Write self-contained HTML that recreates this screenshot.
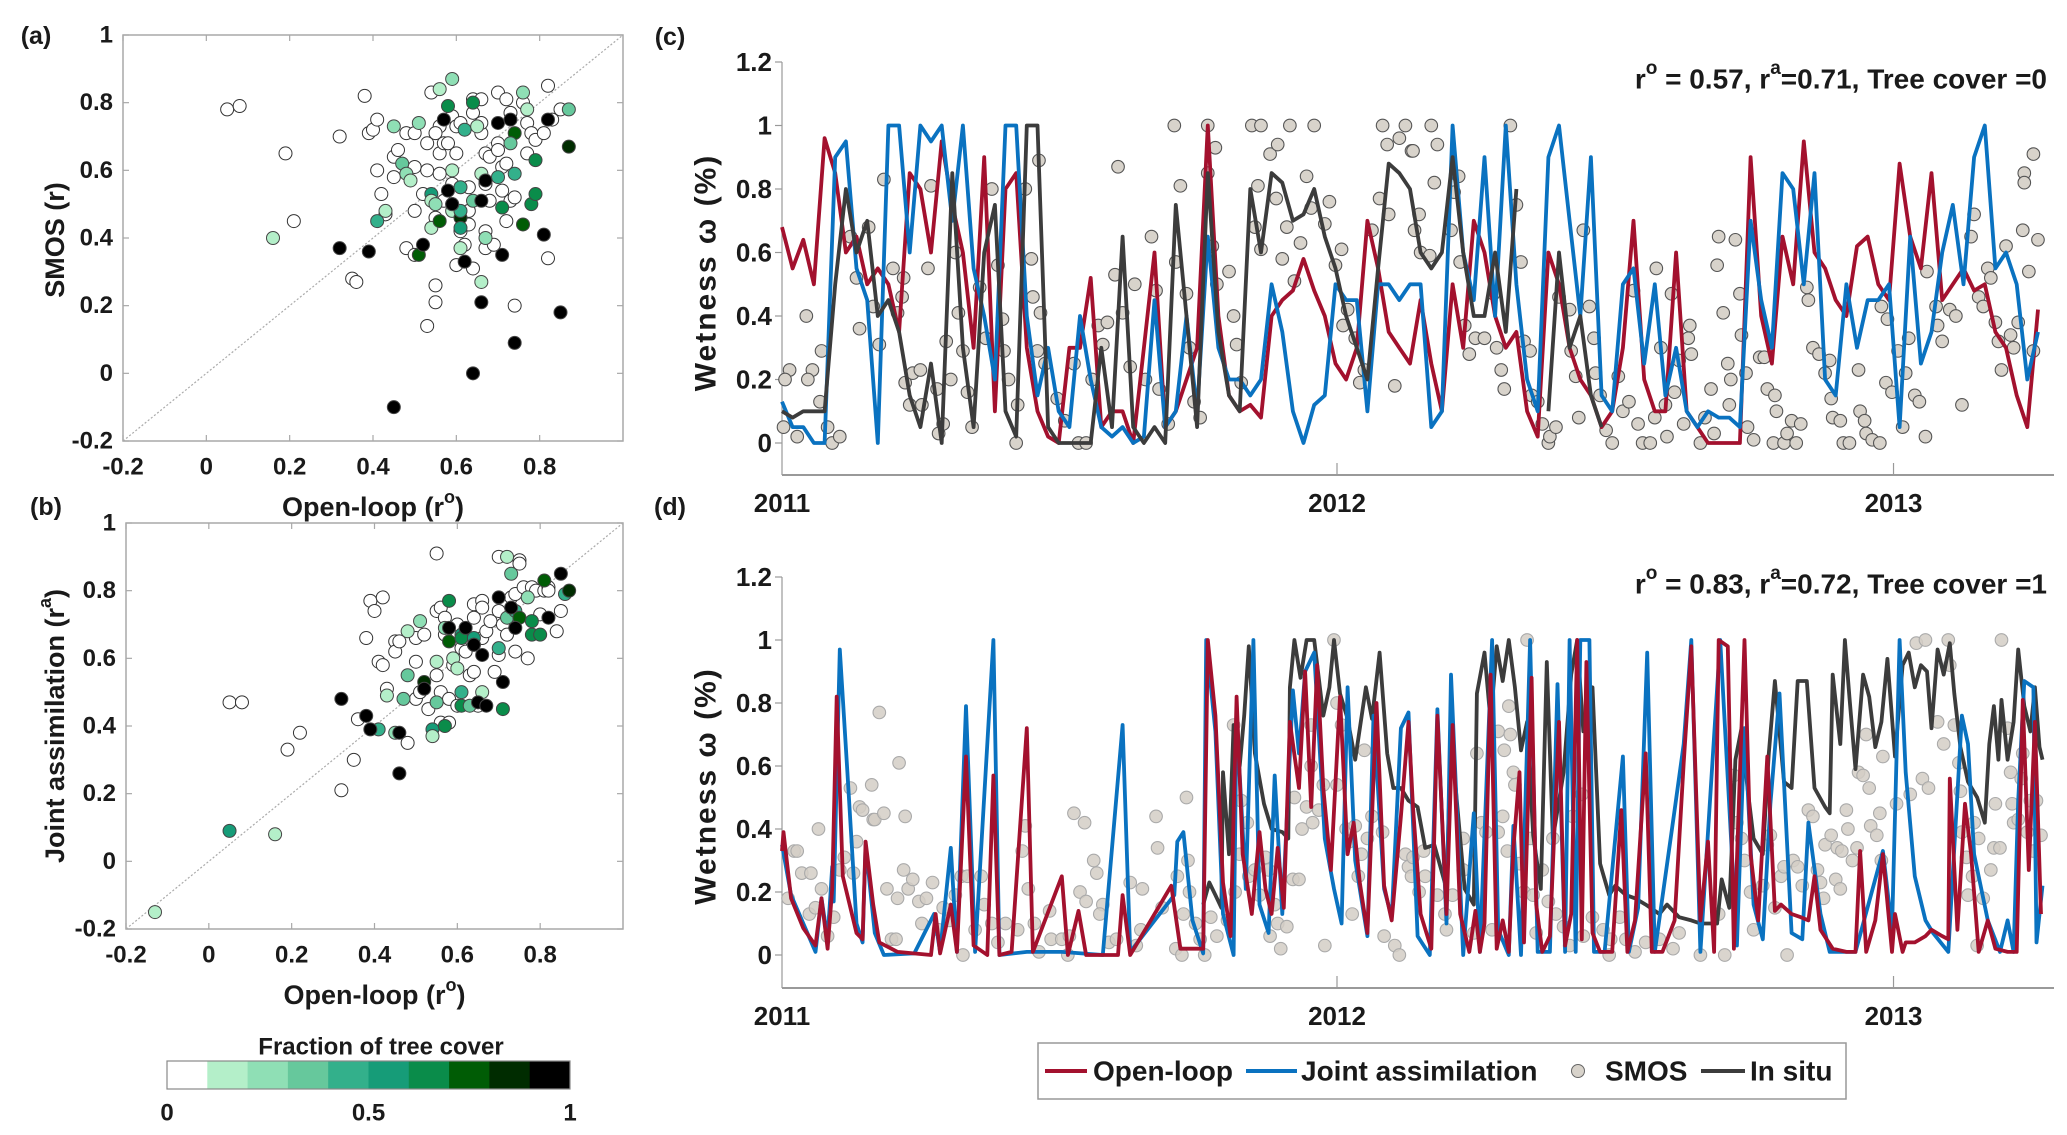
<!DOCTYPE html>
<html><head><meta charset="utf-8"><style>
html,body{margin:0;padding:0;background:#fff;}
svg{display:block;font-family:"Liberation Sans",Arial,sans-serif;}
.tk{font-size:24px;font-weight:bold;fill:#1a1a1a;}
.tk2{font-size:26px;font-weight:bold;fill:#1a1a1a;}
.lg{font-size:28px;font-weight:bold;fill:#1a1a1a;}
.lb{font-size:27px;font-weight:bold;fill:#1a1a1a;}
.lbw{font-size:30px;font-weight:bold;fill:#1a1a1a;letter-spacing:2px;}
.pl{font-size:25px;font-weight:bold;fill:#1a1a1a;}
</style></head><body>
<svg id="fig" width="2067" height="1135" viewBox="0 0 2067 1135" xmlns="http://www.w3.org/2000/svg">
<rect x="0" y="0" width="2067" height="1135" fill="#fff"/>
<g id="root"></g>
</svg>
<script>
// ---------- Data: scatter (a) SMOS vs open-loop ----------
const scatterA_x=[0.05,0.08,0.19,0.21,0.32,0.38,0.35,0.36,0.39,0.40,0.41,0.41,0.42,0.43,0.45,0.46,0.45,0.48,0.50,0.50,0.53,0.53,0.50,0.48,0.50,0.54,0.56,0.55,0.56,0.56,0.52,0.55,0.55,0.55,0.53,0.57,0.58,0.59,0.60,0.61,0.60,0.59,0.57,0.60,0.62,0.61,0.63,0.63,0.63,0.64,0.64,0.64,0.66,0.66,0.66,0.67,0.67,0.68,0.67,0.67,0.69,0.68,0.70,0.70,0.70,0.71,0.71,0.72,0.72,0.72,0.73,0.73,0.74,0.74,0.76,0.77,0.77,0.78,0.79,0.81,0.82,0.82,0.83,0.85,
0.16,0.56,0.59,0.45,0.51,0.58,0.47,0.48,0.49,0.41,0.43,0.54,0.54,0.55,0.54,0.56,0.59,0.59,0.61,0.61,0.61,0.61,0.61,0.62,0.59,0.51,0.64,0.65,0.66,0.67,0.66,0.70,0.71,0.74,0.73,0.74,0.76,0.77,0.76,0.78,0.79,0.79,0.87,0.87,0.64,
0.32,0.39,0.45,0.52,0.57,0.58,0.59,0.62,0.64,0.66,0.66,0.70,0.73,0.71,0.74,0.81,0.82,0.85,0.67];
const scatterA_y=[0.78,0.79,0.65,0.45,0.70,0.82,0.28,0.27,0.71,0.72,0.75,0.60,0.53,0.47,0.64,0.66,0.58,0.71,0.71,0.61,0.68,0.60,0.48,0.37,0.35,0.83,0.73,0.71,0.65,0.59,0.53,0.46,0.26,0.21,0.14,0.68,0.68,0.76,0.73,0.74,0.65,0.56,0.51,0.32,0.38,0.42,0.44,0.55,0.48,0.31,0.81,0.77,0.71,0.81,0.74,0.65,0.56,0.64,0.42,0.37,0.38,0.51,0.68,0.66,0.83,0.61,0.54,0.45,0.62,0.81,0.77,0.51,0.52,0.20,0.80,0.74,0.65,0.71,0.69,0.71,0.85,0.34,0.75,0.78,
0.40,0.84,0.87,0.73,0.74,0.79,0.62,0.59,0.57,0.45,0.48,0.53,0.51,0.50,0.43,0.45,0.60,0.48,0.55,0.37,0.46,0.43,0.48,0.72,0.50,0.35,0.51,0.73,0.59,0.40,0.27,0.58,0.49,0.71,0.68,0.59,0.83,0.78,0.44,0.50,0.63,0.53,0.78,0.67,0.80,
0.37,0.36,-0.10,0.38,0.75,0.54,0.50,0.33,0.0,0.21,0.51,0.74,0.75,0.35,0.09,0.41,0.75,0.18,0.57];
const scatterA_c=[0,0,0,0,0,0,0,0,0,0,0,0,0,0,0,0,0,0,0,0,0,0,0,0,0,0,0,0,0,0,0,0,0,0,0,0,0,0,0,0,0,0,0,0,0,0,0,0,0,0,0,0,0,0,0,0,0,0,0,0,0,0,0,0,0,0,0,0,0,0,0,0,0,0,0,0,0,0,0,0,0,0,0,0,
1,1,2,2,2,6,3,2,1,4,1,5,1,2,1,7,1,1,4,1,8,5,4,4,8,7,3,1,1,2,1,4,6,7,3,4,2,1,7,6,6,6,3,8,6,
9,9,9,9,9,9,9,9,9,9,9,9,9,9,9,9,9,9,9];
// ---------- Data: scatter (b) joint assimilation vs open-loop ----------
const scatterB_x=[0.05,0.08,0.19,0.22,0.32,0.35,0.36,0.38,0.39,0.40,0.42,0.41,0.42,0.43,0.45,0.45,0.46,0.48,0.50,0.50,0.50,0.51,0.52,0.53,0.55,0.55,0.56,0.55,0.56,0.56,0.57,0.57,0.58,0.58,0.59,0.60,0.60,0.61,0.62,0.63,0.64,0.64,0.64,0.65,0.66,0.66,0.66,0.67,0.68,0.69,0.70,0.70,0.71,0.70,0.72,0.73,0.74,0.74,0.75,0.75,0.76,0.77,0.78,0.79,0.80,0.81,0.82,0.82,0.84,0.85,
-0.13,0.05,0.16,0.41,0.45,0.43,0.47,0.48,0.48,0.51,0.54,0.54,0.55,0.55,0.57,0.58,0.57,0.58,0.59,0.60,0.61,0.61,0.61,0.61,0.64,0.63,0.66,0.64,0.70,0.71,0.72,0.73,0.72,0.74,0.75,0.77,0.78,0.78,0.80,0.81,0.86,0.87,0.52,
0.32,0.38,0.39,0.46,0.46,0.52,0.58,0.62,0.64,0.65,0.66,0.70,0.71,0.73,0.74,0.82,0.85,0.67];
const scatterB_y=[0.47,0.47,0.33,0.38,0.21,0.30,0.42,0.66,0.77,0.74,0.78,0.59,0.58,0.51,0.65,0.62,0.65,0.35,0.59,0.48,0.66,0.50,0.67,0.45,0.91,0.74,0.75,0.55,0.41,0.50,0.72,0.67,0.41,0.48,0.58,0.70,0.46,0.63,0.62,0.55,0.56,0.76,0.72,0.46,0.77,0.75,0.66,0.68,0.71,0.56,0.74,0.90,0.70,0.61,0.67,0.78,0.79,0.62,0.89,0.88,0.81,0.60,0.81,0.80,0.73,0.80,0.81,0.80,0.68,0.74,
-0.15,0.09,0.08,0.39,0.38,0.49,0.48,0.55,0.68,0.71,0.39,0.37,0.59,0.47,0.40,0.77,0.69,0.65,0.60,0.57,0.67,0.50,0.46,0.66,0.66,0.46,0.50,0.64,0.63,0.45,0.72,0.85,0.90,0.74,0.72,0.78,0.67,0.71,0.67,0.83,0.79,0.80,0.53,
0.48,0.43,0.39,0.26,0.38,0.51,0.69,0.69,0.64,0.47,0.61,0.78,0.53,0.75,0.69,0.72,0.85,0.46];
const scatterB_c=[0,0,0,0,0,0,0,0,0,0,0,0,0,0,0,0,0,0,0,0,0,0,0,0,0,0,0,0,0,0,0,0,0,0,0,0,0,0,0,0,0,0,0,0,0,0,0,0,0,0,0,0,0,0,0,0,0,0,0,0,0,0,0,0,0,0,0,0,0,0,
1,5,1,4,2,1,3,3,1,2,5,1,1,3,6,6,2,7,1,1,5,4,6,6,5,3,1,2,4,6,3,3,1,4,7,2,6,6,6,7,4,8,8,
9,9,9,9,9,9,9,9,9,9,9,9,9,9,9,9,9,9];
const axisTicksScatter=[-0.2,0,0.2,0.4,0.6,0.8];
const axisTicksScatterY=[-0.2,0,0.2,0.4,0.6,0.8,1];
const treeClasses=['#ffffff','#b4efc9','#8fdfb5','#66c89c','#33b08b','#169c78','#0a8c4a','#005c05','#002c00','#000000'];
const cbarTicks=[0,0.5,1];

// ---------- Data: time series (c) tree cover 0 ----------
const weeks=[];for(let i=0;i<=118;i++)weeks.push(i*7);
const cOpen=[0.68,0.55,0.64,0.5,0.96,0.85,0.6,0.65,0.5,0.55,0.5,0.35,0.85,0.8,0.6,0.95,0.75,0.6,0.3,0.9,0.1,0.8,0.85,0.3,0.1,0.02,0.0,0.3,0.3,0.52,0.05,0.1,0.1,0.0,0.3,0.6,0.05,0.1,0.2,0.3,1.0,0.4,0.15,0.1,0.12,0.08,0.4,0.45,0.48,0.58,0.48,0.4,0.25,0.2,0.3,0.7,0.55,0.35,0.3,0.25,
0.45,0.25,0.1,0.5,0.3,0.7,0.6,0.4,0.3,0.35,0.1,0.02,0.6,0.5,0.3,0.2,0.15,0.05,0.1,0.3,0.7,0.2,0.1,0.1,0.6,0.1,0.05,0.0,0.0,0.0,0.0,0.9,0.4,0.25,0.65,0.5,0.95,0.6,0.55,0.45,0.4,0.62,0.65,0.5,0.45,0.88,0.65,0.55,0.85,0.45,0.5,0.55,0.48,0.5,0.35,0.3,0.15,0.05,0.42];
const cJoint=[0.13,0.05,0.05,0.0,0.0,0.9,0.95,0.55,0.45,0.0,1.0,1.0,0.6,1.0,0.95,1.0,0.7,1.0,0.55,0.4,0.2,1.0,1.0,0.4,0.15,0.3,0.1,0.05,0.4,0.2,0.05,0.02,0.05,0.0,0.02,0.45,0.05,0.1,0.4,0.1,0.65,0.3,0.2,0.2,0.15,0.2,0.5,0.35,0.1,0.0,0.12,0.15,0.5,0.45,0.45,0.1,0.5,0.5,0.45,0.5,
0.5,0.05,0.1,1.0,0.6,0.45,0.9,0.4,1.0,0.5,0.2,0.1,0.9,1.0,0.7,0.4,0.9,0.15,0.1,0.5,0.55,0.25,0.5,0.15,0.3,0.1,0.05,0.1,0.08,0.08,0.05,0.7,0.45,0.3,0.85,0.8,0.5,0.85,0.2,0.15,0.5,0.3,0.45,0.45,0.5,0.05,0.65,0.25,0.35,0.6,0.75,0.5,0.9,1.0,0.55,0.6,0.5,0.2,0.35];
const cInsitu=[0.1,0.08,0.1,0.1,0.1,0.5,0.8,0.6,0.7,0.4,0.45,0.35,0.15,0.05,0.25,0.0,0.85,0.3,0.05,0.6,0.75,0.1,0.02,1.0,1.0,0.05,0.0,0.0,0.0,0.0,0.3,0.05,0.65,0.05,0.0,0.05,0.0,0.75,0.4,0.05,0.85,0.35,0.15,0.1,0.8,0.6,0.85,0.82,0.7,0.72,0.8,0.65,0.55,0.4,0.3,0.2,0.55,0.88,0.85,0.8,
0.6,0.55,0.6,0.9,0.6,0.4,0.4,0.6,0.35,0.8,null,null,0.1,0.6,0.3,0.4,0.15,0.05,null,null,null,null,null,null,null,null,null,null,null,null,null,null,null,null,null,null,null,null,null,null,null,null,null,null,null,null,null,null,null,null,null,null,null,null,null,null,null,null,null,null,0.6];
const cSmosDay=[1,5,2,10,16,20,17,25,26,30,33,38,45,49,51,57,60,64,67,73,76,80,79,81,86,84,91,92,96,98,102,103,106,108,111,114,116,119,122,125,130,134,138,142,145,146,149,155,154,160,164,165,170,169,168,173,181,186,192,195,200,204,208,211,214,219,221,224,232,229,239,243,246,248,254,258,259,262,266,268,271,275,280,280,285,283,286,294,297,299,302,309,315,311,313,315,321,325,326,329,332,334,337,341,345,348,350,357,360,364,368,369,372,377,380,383,388,393,395,398,399,403,406,410,414,
427,431,415,416,419,420,429,426,442,445,440,446,449,452,456,462,468,470,473,475,479,483,486,488,492,493,497,500,504,505,509,511,518,519,522,524,527,531,534,535,538,542,546,550,553,557,560,563,566,571,575,574,578,581,582,585,587,590,593,596,597,598,604,607,611,613,615,616,619,622,624,623,627,630,631,634,635,639,643,646,648,652,653,654,659,661,664,667,670,674,675,678,682,686,689,690,691,696,698,702,708,709,712,713,717,722,723,726,727,730,734,737,739,741,745,748,752,753,759,760,763,768,772,776,782,784,787,790,793,795,798,800,802,805,808,810,813,816,817,817,820,823,823,826];
const cSmosVal=[0.05,0.23,0.2,0.02,0.4,0.23,0.2,0.13,0.29,0.05,0.0,0.02,0.65,0.52,0.36,0.68,0.43,0.31,0.83,0.55,0.41,0.52,0.46,0.19,0.22,0.12,0.23,0.12,0.55,0.81,0.17,0.03,0.06,0.32,0.2,0.6,0.41,0.29,0.16,0.05,0.49,0.33,0.8,0.56,0.39,0.29,0.2,0.12,0.0,0.8,0.58,0.46,0.41,0.89,0.29,0.25,0.14,0.07,0.25,0.0,0.0,0.2,0.37,0.31,0.38,0.53,0.87,0.41,0.5,0.24,0.2,0.65,0.48,0.17,0.06,1.0,0.57,0.81,0.47,0.3,0.13,0.08,1.0,0.85,0.93,0.62,0.5,0.54,0.4,0.31,0.19,1.0,1.0,0.68,0.81,0.61,0.91,0.77,0.94,0.58,0.68,1.0,0.51,0.63,0.84,0.74,1.0,0.69,0.76,0.56,0.61,0.37,0.42,0.33,0.19,0.23,0.67,0.77,1.0,0.94,0.72,0.18,0.96,1.0,0.92,
1.0,0.94,0.92,0.67,0.72,0.6,0.82,0.59,0.79,0.84,0.67,0.57,0.37,0.28,0.33,0.33,0.47,0.3,0.23,0.17,1.0,0.75,0.57,0.32,0.29,0.15,0.13,0.06,0.0,0.02,0.05,0.46,0.42,0.29,0.21,0.08,0.67,0.43,0.33,0.22,0.15,0.04,0.0,0.21,0.1,0.13,0.48,0.06,0.0,0.0,0.55,0.08,0.3,0.12,0.02,0.47,0.16,0.26,0.06,0.33,0.37,0.28,0.0,0.08,0.17,0.03,0.56,0.65,0.41,0.25,0.2,0.12,0.64,0.47,0.34,0.22,0.05,0.01,0.27,0.27,0.17,0.0,0.15,0.1,0.0,0.03,0.07,0.0,0.06,0.49,0.45,0.3,0.28,0.22,0.26,0.14,0.08,0.07,0.0,0.0,0.23,0.1,0.07,0.03,0.01,0.0,0.43,0.19,0.39,0.16,0.29,0.05,0.22,0.33,0.15,0.13,0.02,0.54,0.43,0.37,0.32,0.42,0.4,0.12,0.65,0.72,0.46,0.43,0.55,0.52,0.38,0.32,0.23,0.62,0.34,0.3,0.38,0.67,0.85,0.82,0.54,0.91,0.29,0.64];

// ---------- Data: time series (d) tree cover 1 ----------
const dOpenDay=[0,1,6,14,22,26,30,33,36,40,49,53,55,60,64,76,98,101,104,111,115,121,126,135,139,143,151,161,165,184,188,195,200,221,224,229,256,262,277,280,285,290,295,299,303,309,314,318,322,326,330,334,340,344,348,352,356,361,367,372,376,380,385,391,396,401,407,412,
415,420,427,431,437,441,446,452,456,459,462,466,470,474,478,481,485,488,493,496,500,505,511,515,519,523,526,529,533,538,546,552,556,561,568,572,579,587,593,598,604,609,613,616,622,626,633,637,642,648,653,657,664,670,675,679,683,691,700,706,709,713,719,724,730,732,737,739,745,752,756,763,767,768,773,778,782,787,793,798,806,812,816,820,824,828];
const dOpenVal=[0.33,0.39,0.18,0.085,0.03,0.18,0.02,0.21,0.82,0.25,0.07,0.05,0.36,0.16,0.04,0.01,0,0.13,0.005,0.16,0.01,0.63,0.03,0,0.57,0,0.01,0.72,0.01,0.25,0,0.14,0,0,0.19,0,0.22,0.02,0.02,1.0,0.76,0.23,0.06,0.82,0.32,0.13,0.39,0.21,0.13,0.34,0.15,0.74,0.53,0.9,0.47,0.92,0.53,0.27,0.82,0.32,0.42,0.23,0.07,0.8,0.22,0.11,0.44,0.74,
0.47,0.13,0.02,0.76,0.13,0.73,0.13,0.01,0.14,0.01,0.1,0.89,0.02,0.11,0.01,0.34,0.58,0.04,0.88,0.16,0.01,0.06,0.74,0.03,0.13,1.0,0.05,0.93,0.07,0.01,0.01,0.46,0.01,0.11,0.64,0.01,0.01,0.11,0.61,0.98,0.11,0.36,0.01,1.0,0.98,0.02,1.0,0.32,0.11,0.63,0.14,0.16,0.13,0.12,0.11,0.25,0.08,0.02,0.01,0.01,0.33,0.01,0.11,0.32,0.01,0.13,0.01,0.04,0.04,0.06,0.08,0.06,0.05,0.56,0.08,0.48,0.32,0.01,0.11,0.02,0.01,0.01,0.81,0.27,0.74,0.13];
const dJointDay=[0,6,22,26,30,33,34,38,43,49,53,55,61,67,87,100,104,111,115,121,127,139,143,161,184,211,224,229,258,260,264,270,277,279,285,290,297,299,305,310,314,320,324,329,336,340,344,350,357,363,368,372,377,385,389,396,401,407,412,
418,426,431,437,440,448,455,459,467,471,478,481,486,492,497,505,510,515,518,522,525,531,534,541,553,557,563,569,574,587,593,598,604,617,628,633,639,645,650,656,664,671,675,683,689,706,724,730,735,739,745,752,757,767,776,780,784,793,801,806,810,813,817,823,825,829];
const dJointVal=[0.35,0.19,0.01,0.18,0.05,0.28,0.17,0.97,0.58,0.1,0.04,0.35,0.07,0,0.005,0.13,0.01,0.34,0.01,0.79,0.01,1.0,0,0.01,0.01,0,0.73,0.01,0.19,0.36,0.39,0.11,0.005,1.0,0.71,0.13,0,0.76,0.21,1.0,0.16,0.07,0.57,0.13,0.84,0.64,0.9,0.96,0.37,0.21,0.1,0.85,0.3,0.06,0.76,0.21,0.12,0.72,0.77,
0.06,0,0.78,0.1,0.89,0,0.45,0.01,1.0,0.08,0,0.41,0,1.0,0.01,0.01,0.86,0.01,1.0,0.01,1.0,1.0,0.01,0.01,0.63,0.01,0.15,0.96,0.01,0.46,0.67,1.0,0.01,1.0,0.03,0.72,0.16,0.05,0.48,0.83,0.07,0.05,0.42,0.13,0.01,0.01,0.33,0.08,1.0,0.58,0.25,0.11,0.07,0.01,0.76,0.67,0.32,0.11,0.01,0.11,0.01,0.49,0.87,0.85,0.04,0.22];
const dInsituDay=[277,281,285,289,290,294,297,301,304,307,311,317,322,329,333,334,337,341,345,350,356,360,363,367,372,377,384,388,393,398,402,407,412,
418,423,429,437,440,444,449,455,457,462,466,470,474,478,482,486,490,494,499,503,507,514,519,523,527,533,538,544,548,555,561,568,577,582,590,598,604,615,618,623,627,631,635,639,645,649,653,659,664,668,674,679,686,689,691,696,699,702,706,711,715,719,723,727,732,737,741,745,749,753,756,760,764,768,771,775,780,786,791,794,797,800,802,806,810,813,817,821,824,827,829];
const dInsituVal=[0.16,0.23,0.19,0.15,0.58,0.32,0.73,0.6,0.76,0.98,0.64,0.48,0.4,0.39,0.37,0.85,1.0,0.88,1.0,1.0,0.76,0.85,1.0,0.83,0.75,0.62,0.85,0.75,0.96,0.64,0.53,0.53,0.49,
0.47,0.34,0.35,0.21,0.7,0.48,0.21,0.16,0.83,0.96,0.74,0.98,0.87,1.0,0.85,0.65,0.74,0.38,0.21,0.93,0.37,0.58,0.89,1.0,0.71,0.85,0.29,0.19,0.22,0.19,0.18,0.16,0.13,0.16,0.12,0.11,0.1,0.1,0.24,0.15,0.62,0.72,0.53,0.37,0.32,0.64,0.87,0.55,0.53,0.87,0.87,0.53,0.47,0.45,0.89,0.67,1.0,0.82,0.59,0.89,0.82,0.66,0.74,0.94,0.63,0.92,0.96,0.85,0.92,0.9,0.72,0.97,0.89,0.99,0.83,0.66,0.55,0.5,0.42,0.67,0.79,0.62,0.81,0.62,0.74,0.97,0.79,0.71,0.85,0.66,0.62];
const dSmosDay=[4,8,10,13,19,18,22,24,26,30,34,38,41,45,47,49,51,53,59,60,64,61,67,69,72,75,77,76,80,81,83,86,90,92,95,99,103,106,110,114,119,118,122,127,131,133,138,142,147,155,158,160,162,166,169,176,177,184,188,189,192,199,196,200,205,207,211,209,215,220,229,233,236,237,246,247,250,259,260,263,264,266,267,268,272,275,278,282,286,293,297,298,301,302,306,307,311,314,318,320,321,324,326,328,332,336,337,340,342,345,348,349,348,353,356,357,363,365,368,365,371,373,377,379,381,375,383,388,385,395,396,403,406,410,412,414,
415,422,423,419,431,436,437,441,448,448,455,457,460,463,467,471,471,474,475,477,478,479,481,482,485,488,490,492,494,496,500,504,507,509,514,518,520,526,527,533,540,544,545,551,555,561,568,577,586,590,604,616,620,626,628,631,633,637,639,645,648,650,653,657,659,661,665,668,671,675,678,681,683,685,686,690,694,697,693,696,700,701,704,707,708,711,713,715,716,720,722,723,724,733,742,746,750,754,752,760,764,767,768,771,774,775,776,779,780,783,784,787,786,790,795,798,797,801,802,806,808,809,810,813,815,816,819,821,823,825,828];
const dSmosVal=[0.18,0.33,0.33,0.26,0.26,0.13,0.15,0.4,0.21,0.06,0.12,0.27,0.31,0.53,0.26,0.36,0.47,0.46,0.54,0.43,0.77,0.43,0.45,0.21,0.05,0.05,0.61,0.18,0.27,0.44,0.21,0.24,0.17,0.1,0.18,0.23,0.08,0.15,0.11,0.19,0,0.25,0.25,0.08,0.25,0.16,0.1,0.04,0.1,0.08,0.33,0.41,0.21,0.1,0.01,0.14,0.05,0.05,0,0.06,0.45,0.42,0.2,0.17,0.3,0.26,0.16,0.13,0.04,0.05,0.23,0.03,0.08,0.21,0.44,0.34,0.15,0.02,0.25,0,0.13,0.5,0.3,0.2,0.1,0.05,0,0.12,0.06,0.11,0.73,0.2,0.32,0.49,0.42,0.25,0.27,0.19,0.31,0.27,0.06,0.16,0.1,0.02,0.09,0.24,0.5,0.24,0.4,0.47,0.6,0.42,0.73,0.46,0.54,0.03,1.0,0.8,0.73,0.54,0.4,0.36,0.41,0.25,0.32,0.13,0.65,0.44,0.37,0.39,0.06,0.03,0,0.32,0.28,0.25,
0.31,0.33,0.25,0.2,0.19,0.13,0.08,0.19,0.37,0.27,0.07,0.64,0.42,0.39,0.08,0.39,0.71,0.44,0.65,0.33,0.79,0.7,0.58,0.54,0.29,0.2,1.0,0.37,0.19,0.07,0.27,0.17,0.37,0.13,0.09,0.03,0.44,0.51,0.06,0.12,0.08,0,0.05,0.12,0.05,0.01,0.04,0.05,0.02,0.07,0,0.13,0,0.57,0.42,0.37,0.3,0.2,0.08,0.22,0.35,0.38,0.15,0.25,0.28,0,0.3,0.28,0.22,0.46,0.44,0.27,0.23,0.18,0.35,0.38,0.34,0.33,0.24,0.21,0.46,0.4,0.3,0.34,0.58,0.57,0.7,0.53,0.41,0.38,0.45,0.3,0.63,0.48,0.51,0.99,0.56,0.53,1.0,0.74,0.67,1.0,0.92,0.73,0.61,0.52,0.39,0.31,0.19,0.25,0.42,0.37,0.03,0.18,0.27,0.48,0.34,0.34,1.0,0.72,0.58,0.48,0.42,0.43,0.56,0.64,0.39,0.49,0.33,0.49,0.38];
const yTicksTS=[0,0.2,0.4,0.6,0.8,1,1.2];
const yTickLabelsTS=['0','0.2','0.4','0.6','0.8','1','1.2'];
const yearTickDays=[0,365,731];
const yearLabels=['2011','2012','2013'];

// ---------- Drawing ----------
const NS='http://www.w3.org/2000/svg';
const root=document.getElementById('root');
function mk(tag,attrs,parent,text){const e=document.createElementNS(NS,tag);for(const k in attrs)e.setAttribute(k,attrs[k]);if(text!==undefined)e.textContent=text;(parent||root).appendChild(e);return e;}
function lin(d0,d1,r0,r1){return v=>r0+(v-d0)*(r1-r0)/(d1-d0);}
function fmt(v){return v===0?'0':String(v);}

function scatterPanel(name,X0,X1,Y0,Y1,xs,ys,cs,ylab,labY){
  const g=mk('g',{});
  
  
  const sx=lin(-0.2,1.0,X0,X1), sy=lin(-0.2,1.0,Y1,Y0);
  const box=mk('rect',{x:X0,y:Y0,width:X1-X0,height:Y1-Y0,fill:'#fff',stroke:'#a8a8a8','stroke-width':1.5},g);
  
  
  axisTicksScatter.forEach(t=>{const x=sx(t);
    mk('line',{x1:x,x2:x,y1:Y1,y2:Y1-6,stroke:'#a8a8a8','stroke-width':1.2},g);
    mk('line',{x1:x,x2:x,y1:Y0,y2:Y0+6,stroke:'#a8a8a8','stroke-width':1.2},g);
    const tl=mk('text',{x:x,y:Y1+26,'text-anchor':'middle',class:'tk','dominant-baseline':'central'},g,fmt(t));
    
    
  });
  axisTicksScatterY.forEach(t=>{const y=sy(t);
    mk('line',{x1:X0,x2:X0+6,y1:y,y2:y,stroke:'#a8a8a8','stroke-width':1.2},g);
    mk('line',{x1:X1,x2:X1-6,y1:y,y2:y,stroke:'#a8a8a8','stroke-width':1.2},g);
    const tl=mk('text',{x:X0-10,y:y,'text-anchor':'end',class:'tk','dominant-baseline':'central'},g,fmt(t));
    
    
  });
  const diag=mk('line',{x1:sx(-0.2),y1:sy(-0.2),x2:sx(1),y2:sy(1),stroke:'#aaa','stroke-width':1.2,'stroke-dasharray':'2,2'},g);
  
  
  xs.forEach((_,i)=>{
    const c=mk('circle',{cx:sx(xs[i]),cy:sy(ys[i]),r:6.5,fill:treeClasses[cs[i]],stroke:cs[i]===0?'#333':'#444','stroke-width':1},g);
    
    
  });
  const xl=mk('text',{x:(X0+X1)/2,y:Y1+66,'text-anchor':'middle',class:'lb','dominant-baseline':'central'},g);
  
  
  xl.innerHTML='Open-loop (r<tspan baseline-shift="super" font-size="18">o</tspan>)';
  const yl=mk('text',{x:0,y:0,'text-anchor':'middle',class:'lb','dominant-baseline':'central',transform:`translate(55,${labY}) rotate(-90)`},g);
  
  
  yl.innerHTML=ylab;
}
scatterPanel('scatter-smos-vs-openloop',123,623,35,441,scatterA_x,scatterA_y,scatterA_c,'SMOS (r)',240);
scatterPanel('scatter-joint-vs-openloop',126,623,523,929,scatterB_x,scatterB_y,scatterB_c,'Joint assimilation (r<tspan baseline-shift="super" font-size="18">a</tspan>)',726);

[['(a)',36,36],['(b)',46,507],['(c)',670,37],['(d)',670,507]].forEach(p=>{
  const t=mk('text',{x:p[1],y:p[2],'text-anchor':'middle',class:'pl','dominant-baseline':'central'},root,p[0]);
  
  
});

(function(){
  const g=mk('g',{});
  
  
  const X0=167,X1=570,Y0=1061,Y1=1089,w=(X1-X0)/treeClasses.length;
  treeClasses.forEach((c,i)=>{const r=mk('rect',{x:X0+i*w,y:Y0,width:w+0.5,height:Y1-Y0,fill:c},g);
    
    });
  mk('rect',{x:X0,y:Y0,width:X1-X0,height:Y1-Y0,fill:'none',stroke:'#888','stroke-width':1.2},g);
  const sc=lin(0,1,X0,X1);
  cbarTicks.forEach(t=>{const tl=mk('text',{x:sc(t),y:1113,'text-anchor':'middle',class:'tk','dominant-baseline':'central'},g,String(t));
    
    });
  const tt=mk('text',{x:381,y:1047,'text-anchor':'middle',class:'tk','dominant-baseline':'central'},g,'Fraction of tree cover');
  
  
})();

function tsPanel(name,Y0v,Y12v,yAxisBottom,series,smosD,smosV,smosStyle,annot,annotY){
  const g=mk('g',{});
  
  
  const X0=782, X1=2054;
  const sx=lin(0,365,782,1337), sy=lin(0,1.2,Y0v,Y12v);
  const la=mk('line',{x1:X0,x2:X0,y1:Y12v,y2:yAxisBottom,stroke:'#999','stroke-width':1.2},g);
  
  
  const ba=mk('line',{x1:X0,x2:X1,y1:yAxisBottom,y2:yAxisBottom,stroke:'#999','stroke-width':2},g);
  
  
  yTicksTS.forEach((t,i)=>{const y=sy(t);
    mk('line',{x1:X0,x2:X0-7,y1:y,y2:y,stroke:'#999','stroke-width':1.2},g);
    const tl=mk('text',{x:X0-10,y:y,'text-anchor':'end',class:'tk2','dominant-baseline':'central'},g,yTickLabelsTS[i]);
    
    });
  yearTickDays.forEach((d,i)=>{const x=sx(d);
    if(i>0)mk('line',{x1:x,x2:x,y1:yAxisBottom,y2:yAxisBottom-12,stroke:'#999','stroke-width':1.2},g);
    const tl=mk('text',{x:x,y:yAxisBottom+28,'text-anchor':'middle',class:'tk2','dominant-baseline':'central'},g,yearLabels[i]);
    
    });
  const yl=mk('text',{x:0,y:0,'text-anchor':'middle',class:'lbw','dominant-baseline':'central',transform:`translate(706,${(Y0v+Y12v)/2+20}) rotate(-90)`},g,'Wetness ω (%)');
  
  
  function drawLine(days,vals,color,nm){
    let d='',pen=false;
    for(let i=0;i<vals.length;i++){
      if(vals[i]===null){pen=false;continue;}
      d+=(pen?'L':'M')+sx(days[i]).toFixed(1)+' '+sy(vals[i]).toFixed(1)+' ';pen=true;
    }
    const p=mk('path',{d:d,fill:'none',stroke:color,'stroke-width':3.8,'stroke-linejoin':'round'},g);
    
    
  }
  const smosG=mk('g',{},g);
  
  
  smosD.forEach((d,i)=>{
    const c=mk('circle',{cx:sx(d),cy:sy(smosV[i]),r:6.3,fill:smosStyle.fill,stroke:smosStyle.stroke,'stroke-width':1.1,'fill-opacity':smosStyle.op},smosG);
    
    
  });
  series.forEach(s=>drawLine(s.days,s.vals,s.color,s.name));
  const an=mk('text',{x:2047,y:annotY,'text-anchor':'end',class:'lg','dominant-baseline':'central'},g);
  
  
  an.innerHTML=annot;
}
const RED='#a3112e',BLUE='#0a72c0',DARK='#3c3c3c';
tsPanel('timeseries-tree-cover-0',443,62,475,
  [{days:weeks,vals:cOpen,color:RED,name:'open-loop-line'},{days:weeks,vals:cJoint,color:BLUE,name:'joint-assimilation-line'},{days:weeks,vals:cInsitu,color:DARK,name:'in-situ-line'}],
  cSmosDay,cSmosVal,{fill:'#d8d3cb',stroke:'#555',op:1},
  'r<tspan baseline-shift="super" font-size="19">o</tspan> = 0.57, r<tspan baseline-shift="super" font-size="19">a</tspan>=0.71, Tree cover =0',79);
tsPanel('timeseries-tree-cover-1',955,577,988,
  [{days:dInsituDay,vals:dInsituVal,color:DARK,name:'in-situ-line'},{days:dJointDay,vals:dJointVal,color:BLUE,name:'joint-assimilation-line'},{days:dOpenDay,vals:dOpenVal,color:RED,name:'open-loop-line'}],
  dSmosDay,dSmosVal,{fill:'#d3cec6',stroke:'#aaa',op:0.85},
  'r<tspan baseline-shift="super" font-size="19">o</tspan> = 0.83, r<tspan baseline-shift="super" font-size="19">a</tspan>=0.72, Tree cover =1',584);

(function(){
  const g=mk('g',{});
  
  
  mk('rect',{x:1038,y:1043,width:808,height:56,fill:'#fff',stroke:'#999','stroke-width':1.5},g);
  const cy=1071;
  const items=[['line',RED,1045,1087,'Open-loop',1093],['line',BLUE,1246,1297,'Joint assimilation',1301],['dot','#d8d3cb',1578,1578,'SMOS',1605],['line',DARK,1701,1745,'In situ',1750]];
  items.forEach(it=>{
    const e=mk('g',{},g);
    
    
    if(it[0]==='line')mk('line',{x1:it[2],x2:it[3],y1:cy,y2:cy,stroke:it[1],'stroke-width':4},e);
    else mk('circle',{cx:it[2],cy:cy,r:6.5,fill:it[1],stroke:'#666','stroke-width':1},e);
    mk('text',{x:it[5],y:cy,class:'lg','dominant-baseline':'central'},e,it[4]);
  });
})();
</script>
</body></html>
